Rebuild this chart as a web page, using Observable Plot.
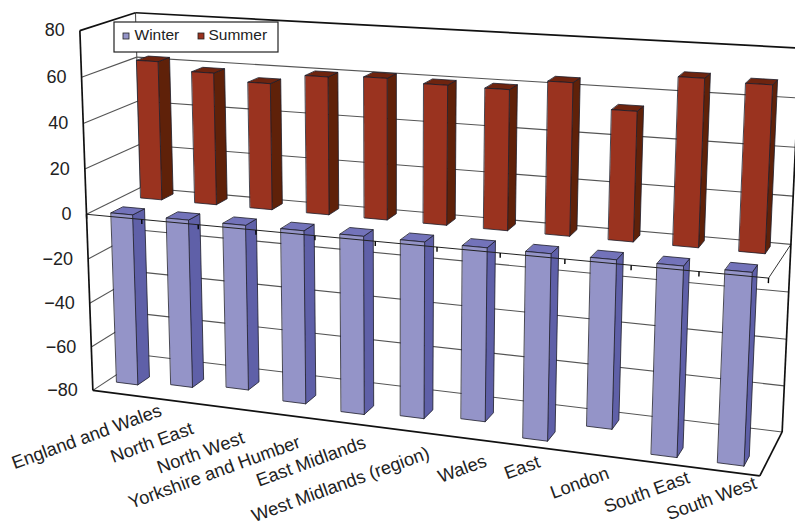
<!DOCTYPE html>
<html>
<head>
<meta charset="utf-8">
<script src="https://cdn.jsdelivr.net/npm/d3@7"></script>
<script src="https://cdn.jsdelivr.net/npm/@observablehq/plot@0.6"></script>
<style>
  html, body { margin: 0; background: #fff; }
  svg { display: block; }
</style>
</head>
<body>
<div id="chart"></div>
<script>
// Regional values by season
const categories = ["England and Wales", "North East", "North West", "Yorkshire and Humber", "East Midlands",
  "West Midlands (region)", "Wales", "East", "London", "South East", "South West"];
const winter = [-77, -75, -73, -76, -77.5, -76, -74, -79, -70.5, -79, -79];
const summer = [62, 58.5, 55.5, 60, 61, 59.7, 59.5, 64, 54, 69, 68];
const tickValues = [80, 60, 40, 20, 0, -20, -40, -60, -80];

// Camera calibration: known box corners [t across, d into depth, value] and where they land on the page
const W = 795, H = 522;
const calibration = [
  [0, 0, 80, 76, 29], [0, 0, 0, 88, 213], [0, 0, -80, 94, 390],
  [0, 1, 80, 138, 12], [0, 1, 0, 140, 190], [0, 1, -80, 142, 354],
  [1, 0, 0, 768, 280], [1, 0, -80, 759, 475],
  [1, 1, 80, 799, 47], [1, 1, 0, 790, 243], [1, 1, -80, 783, 431]
];

// Least-squares fit of a 3x4 projective camera (last entry fixed at 1)
function fitCamera(rows) {
  const n = 11;
  const A = Array.from({length: n}, () => new Array(n + 1).fill(0));
  const add = (r, b) => {
    for (let i = 0; i < n; i++) {
      for (let j = 0; j < n; j++) A[i][j] += r[i] * r[j];
      A[i][n] += r[i] * b;
    }
  };
  for (const [t, d, v, x, y] of rows) {
    const u = (v + 80) / 160, px = x / W, py = y / W;
    add([t, d, u, 1, 0, 0, 0, 0, -px * t, -px * d, -px * u], px);
    add([0, 0, 0, 0, t, d, u, 1, -py * t, -py * d, -py * u], py);
  }
  for (let i = 0; i < n; i++) {
    let p = i;
    for (let k = i + 1; k < n; k++) if (Math.abs(A[k][i]) > Math.abs(A[p][i])) p = k;
    [A[i], A[p]] = [A[p], A[i]];
    for (let k = 0; k < n; k++) {
      if (k === i) continue;
      const f = A[k][i] / A[i][i];
      for (let j = i; j <= n; j++) A[k][j] -= f * A[i][j];
    }
  }
  return A.map((row, i) => row[n] / row[i]);
}
const cam = fitCamera(calibration);
function project(t, d, v) {
  const u = (v + 80) / 160;
  const w = cam[8] * t + cam[9] * d + cam[10] * u + 1;
  return [
    W * (cam[0] * t + cam[1] * d + cam[2] * u + cam[3]) / w,
    W * (cam[4] * t + cam[5] * d + cam[6] * u + cam[7]) / w
  ];
}

// Bar footprint within a category cell and within the depth of the box
const barShare = 0.39;
const barShift = 0.003;
const winterDepth = [0.11, 0.33];
const summerDepth = [0.66, 0.88];

function barFaces(values, [d0, d1], name) {
  const front = [], side = [], top = [];
  values.forEach((value, i) => {
    const t0 = (i + (1 - barShare) / 2) / categories.length + barShift;
    const t1 = (i + (1 + barShare) / 2) / categories.length + barShift;
    const high = Math.max(value, 0), low = Math.min(value, 0);
    const face = (list, corners, id) => corners.forEach(c => {
      const [x, y] = project(...c);
      list.push({x, y, id: `${name}-${id}-${i}`});
    });
    face(front, [[t0, d0, high], [t1, d0, high], [t1, d0, low], [t0, d0, low]], "front");
    face(side, [[t1, d0, high], [t1, d1, high], [t1, d1, low], [t1, d0, low]], "side");
    face(top, [[t0, d0, high], [t1, d0, high], [t1, d1, high], [t0, d1, high]], "top");
  });
  return {front, side, top};
}

function faceMarks(faces, colors) {
  const opts = f => ({x: "x", y: "y", z: "id", curve: "linear-closed", fill: f, stroke: "#1c1c28", strokeWidth: 0.8});
  return [
    Plot.line(faces.side, opts(colors.side)),
    Plot.line(faces.top, opts(colors.top)),
    Plot.line(faces.front, opts(colors.front))
  ];
}

// A straight edge between two box positions
const edge = (a, b) => {
  const [x1, y1] = project(...a), [x2, y2] = project(...b);
  return {x1, y1, x2, y2};
};
const linkOpts = (stroke, strokeWidth) => ({x1: "x1", y1: "y1", x2: "x2", y2: "y2", stroke, strokeWidth});

const gridLevels = tickValues.filter(v => v < 80);
const wallGrid = gridLevels.flatMap(v => [edge([0, 0, v], [0, 1, v]), edge([0, 1, v], [1, 1, v])]);
wallGrid.push(edge([0, 1, 80], [0, 1, 0]));
const zeroSide = [edge([1, 0, 0], [1, 1, 0])];
const zeroFront = [edge([0, 0, 0], [1, 0, 0])];
const zeroTicks = d3.range(categories.length + 1).map(k => edge([k / categories.length, 0, 0], [k / categories.length, 0, -2]));
const frame = [
  edge([0, 0, 80], [0, 0, -80]), edge([0, 0, -80], [1, 0, -80]), edge([1, 0, -80], [1, 1, -80]),
  edge([1, 1, -80], [1, 1, 80]), edge([1, 1, 80], [0, 1, 80]), edge([0, 1, 80], [0, 0, 80])
];

// Value labels beside the front-left edge
const valueLabels = tickValues.map(v => {
  const [x, y] = project(0, 0, v);
  return {x: x - 15, y, label: v < 0 ? `\u2212${-v}` : `${v}`};
});

// Hand-placed offsets for the slanted region names, from the foot of each cell
const nudgeX = [41, 18, 13, 12, 19, 23, 19, 10, 15, 30, 30];
const nudgeY = [16, 27, 29, 26, 19, 22, 22, 15, 18, 14, 11];
const categoryLabels = categories.map((label, i) => {
  const [x, y] = project((i + 0.5) / categories.length, 0, -80);
  return {x: x + nudgeX[i], y: y + nudgeY[i], label};
});

// Legend box drawn inside the plot area
const legendBox = [{x1: 114, x2: 278, y1: 22, y2: 52}];
const legendKeys = [
  {name: "Winter", fill: "#9494c8", x: 123, tx: 134},
  {name: "Summer", fill: "#9a321e", x: 198, tx: 208}
];

const chart = Plot.plot({
  width: W,
  height: H,
  margin: 0,
  x: {domain: [0, W], range: [0, W], axis: null},
  y: {domain: [0, H], range: [0, H], axis: null},
  style: {background: "#fff", fontFamily: "'Liberation Sans', Arial, sans-serif"},
  marks: [
    Plot.link(wallGrid, linkOpts("#555", 1.1)),
    Plot.link(zeroSide, linkOpts("#333", 1)),
    ...faceMarks(barFaces(summer, summerDepth, "summer"), {front: "#9a331f", side: "#5f2109", top: "#6e240f"}),
    ...faceMarks(barFaces(winter, winterDepth, "winter"), {front: "#9494c8", side: "#5f60a8", top: "#7373ba"}),
    Plot.link(zeroFront, linkOpts("#222", 1)),
    Plot.link(zeroTicks, linkOpts("#000", 1.4)),
    Plot.link(frame, linkOpts("#111", 1.7)),
    Plot.text(valueLabels, {x: "x", y: "y", text: "label", textAnchor: "end", fontSize: 18, fill: "#222"}),
    Plot.text(categoryLabels, {x: "x", y: "y", text: "label", textAnchor: "end", rotate: -20, fontSize: 18.3, fill: "#222"}),
    Plot.rect(legendBox, {x1: "x1", x2: "x2", y1: "y1", y2: "y2", fill: "#fff", stroke: "#222", strokeWidth: 1.2}),
    Plot.rect(legendKeys, {x1: "x", x2: d => d.x + 6, y1: () => 33, y2: () => 39, fill: "fill", stroke: "#222", strokeWidth: 0.8}),
    Plot.text(legendKeys, {x: "tx", y: () => 35, text: "name", textAnchor: "start", fontSize: 15.5, fill: "#222"})
  ]
});
document.getElementById("chart").append(chart);
</script>
</body>
</html>
